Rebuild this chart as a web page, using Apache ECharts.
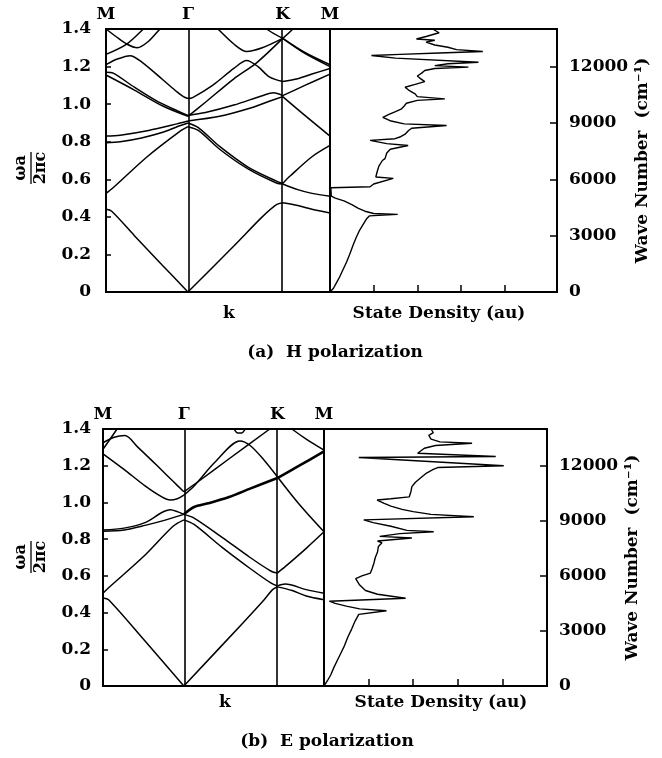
<!DOCTYPE html>
<html lang="en">

<head>
    <meta charset="UTF-8">
    <title>Photonic bands and state density</title>
    <style>
        html,
        body {
            margin: 0;
            padding: 0;
            background: #fff;
        }

        #chart {
            width: 662px;
            height: 758px;
        }
    </style>
</head>

<body>
    <div id="chart"></div>
    <script src="https://cdn.jsdelivr.net/npm/echarts@6/dist/echarts.min.js"></script>
    <script>
        // k path M - Γ - K - M (hexagonal lattice, reduced units)
        var kPoints = [0, 0.577, 1.244, 1.577];
        var kNames = ['M', 'Γ', 'K', 'M'];
        var waveTicks = [0, 3000, 6000, 9000, 12000];
        var dosTicks = [1, 2, 3, 4];

        // (a) H polarization, each band as [k, ωa/2πc]
        var bandsH = [
            [[0, 0.44], [0.04, 0.43], [0.2, 0.30], [0.4, 0.14], [0.577, 0], [0.9, 0.245], [1.1, 0.40], [1.2, 0.465], [1.244, 0.475], [1.35, 0.46], [1.45, 0.44], [1.577, 0.42]],
            [[0, 0.525], [0.05, 0.555], [0.29, 0.72], [0.52, 0.855], [0.577, 0.88], [0.65, 0.86], [0.8, 0.76], [1.0, 0.655], [1.2, 0.58], [1.244, 0.575], [1.35, 0.545], [1.45, 0.525], [1.577, 0.51]],
            [[0, 0.795], [0.1, 0.80], [0.25, 0.82], [0.4, 0.85], [0.5, 0.88], [0.577, 0.90], [0.65, 0.875], [0.8, 0.775], [1.0, 0.665], [1.2, 0.59], [1.244, 0.578], [1.3, 0.62], [1.45, 0.72], [1.577, 0.78]],
            [[0, 0.83], [0.1, 0.835], [0.3, 0.86], [0.5, 0.895], [0.577, 0.91], [0.8, 0.935], [1.0, 0.975], [1.15, 1.015], [1.244, 1.04], [1.4, 0.94], [1.577, 0.83]],
            [[0, 1.17], [0.05, 1.165], [0.2, 1.09], [0.35, 1.02], [0.5, 0.965], [0.577, 0.94], [0.7, 0.955], [0.9, 0.995], [1.1, 1.045], [1.18, 1.06], [1.244, 1.045], [1.4, 1.10], [1.577, 1.16]],
            [[0, 1.155], [0.2, 1.075], [0.4, 0.99], [0.577, 0.935], [0.7, 1.01], [0.9, 1.135], [1.06, 1.22], [1.244, 1.35], [1.4, 1.27], [1.577, 1.20]],
            [[0, 1.21], [0.08, 1.24], [0.17, 1.258], [0.25, 1.225], [0.4, 1.13], [0.5, 1.065], [0.545, 1.04], [0.577, 1.03], [0.61, 1.035], [0.75, 1.10], [0.9, 1.19], [0.99, 1.232], [1.07, 1.2], [1.15, 1.145], [1.244, 1.12], [1.35, 1.135], [1.45, 1.16], [1.577, 1.19]],
            [[0, 1.265], [0.146, 1.32], [0.263, 1.40], [0.3, 1.43]],
            [[0, 1.40], [0.07, 1.36], [0.146, 1.32], [0.22, 1.30], [0.3, 1.335], [0.38, 1.40], [0.42, 1.43]],
            [[0.75, 1.43], [0.788, 1.40], [0.9, 1.32], [0.99, 1.28], [1.1, 1.30], [1.244, 1.35], [1.315, 1.40], [1.34, 1.43]],
            [[1.1, 1.43], [1.13, 1.40], [1.244, 1.35], [1.4, 1.275], [1.577, 1.21]]
        ];

        // (a) state density, [density, ωa/2πc]
        var dosH = [
            [0, 0], [0.08, 0.02], [0.15, 0.05], [0.22, 0.08], [0.3, 0.12], [0.38, 0.16], [0.45, 0.2], [0.53, 0.25], [0.6, 0.29], [0.68, 0.33],
            [0.76, 0.36], [0.84, 0.39], [0.9, 0.405], [1.55, 0.413], [1.0, 0.418], [0.8, 0.43], [0.65, 0.445], [0.5, 0.465], [0.32, 0.485], [0.12, 0.5],
            [0.03, 0.51], [0.02, 0.555], [0.92, 0.56], [1.0, 0.575], [1.45, 0.605], [1.05, 0.612], [1.08, 0.64], [1.12, 0.67], [1.2, 0.7], [1.26, 0.71],
            [1.3, 0.74], [1.38, 0.76], [1.79, 0.78], [1.3, 0.79], [0.92, 0.807], [1.49, 0.816], [1.6, 0.825], [1.72, 0.84], [1.8, 0.86], [1.87, 0.872],
            [2.67, 0.886], [1.7, 0.895], [1.4, 0.91], [1.21, 0.93], [1.35, 0.945], [1.5, 0.96], [1.64, 0.975], [1.7, 0.99], [1.75, 1.005], [2.0, 1.02],
            [2.63, 1.028], [2.0, 1.04], [1.95, 1.055], [1.8, 1.075], [1.72, 1.09], [1.95, 1.105], [2.17, 1.12], [2.05, 1.14], [2.0, 1.15], [2.1, 1.165],
            [2.17, 1.179], [2.4, 1.19], [3.17, 1.197], [2.4, 1.205], [2.7, 1.215], [3.4, 1.223], [1.5, 1.245], [0.95, 1.259], [1.6, 1.265], [2.5, 1.272],
            [3.5, 1.28], [2.9, 1.29], [2.7, 1.303], [2.4, 1.315], [2.2, 1.33], [2.4, 1.34], [1.98, 1.347], [2.2, 1.36], [2.5, 1.38], [2.35, 1.4]
        ];

        // (b) E polarization
        var bandsE = [
            [[0, 0.48], [0.04, 0.47], [0.3, 0.245], [0.577, 0], [1.0, 0.345], [1.15, 0.47], [1.21, 0.525], [1.244, 0.54], [1.35, 0.52], [1.45, 0.49], [1.577, 0.47]],
            [[0, 0.505], [0.04, 0.535], [0.289, 0.705], [0.5, 0.87], [0.577, 0.905], [0.65, 0.88], [0.85, 0.755], [1.05, 0.64], [1.2, 0.56], [1.244, 0.545], [1.3, 0.555], [1.45, 0.525], [1.577, 0.505]],
            [[0, 0.85], [0.15, 0.86], [0.3, 0.89], [0.42, 0.945], [0.48, 0.96], [0.53, 0.95], [0.577, 0.935], [0.65, 0.915], [0.85, 0.81], [1.05, 0.70], [1.2, 0.625], [1.244, 0.615], [1.3, 0.65], [1.45, 0.75], [1.577, 0.84]],
            [[0, 0.843], [0.15, 0.85], [0.3, 0.875], [0.45, 0.905], [0.577, 0.935]],
            [[0.577, 0.935], [0.65, 0.975], [0.75, 0.995], [0.9, 1.03], [1.05, 1.075], [1.244, 1.133], [1.4, 1.2], [1.577, 1.278]],
            [[0, 1.325], [0.08, 1.355], [0.156, 1.364], [0.25, 1.30], [0.4, 1.19], [0.5, 1.115], [0.577, 1.058], [0.7, 1.125], [0.9, 1.238], [1.19, 1.40], [1.25, 1.435]],
            [[0, 1.265], [0.15, 1.18], [0.3, 1.09], [0.42, 1.03], [0.48, 1.013], [0.53, 1.02], [0.577, 1.04], [0.65, 1.09], [0.8, 1.22], [0.977, 1.335], [1.05, 1.31], [1.15, 1.23], [1.244, 1.14], [1.4, 0.99], [1.577, 0.84]],
            [[0, 1.29], [0.1, 1.40], [0.12, 1.43]],
            [[0.9, 1.43], [0.935, 1.40], [0.96, 1.378], [0.99, 1.378], [1.015, 1.40], [1.05, 1.43]],
            [[1.3, 1.43], [1.348, 1.40], [1.45, 1.345], [1.577, 1.285]]
        ];
        var thickE = [4];

        var dosE = [
            [0, 0], [0.08, 0.03], [0.15, 0.06], [0.22, 0.1], [0.3, 0.14], [0.38, 0.18], [0.46, 0.22], [0.54, 0.27], [0.62, 0.31], [0.7, 0.355],
            [0.78, 0.39], [1.4, 0.41], [0.8, 0.42], [0.5, 0.435], [0.25, 0.45], [0.12, 0.462], [1.83, 0.478], [1.2, 0.5], [0.93, 0.52], [0.8, 0.55],
            [0.71, 0.585], [0.85, 0.6], [1.04, 0.615], [1.08, 0.64], [1.12, 0.67], [1.15, 0.7], [1.2, 0.73], [1.22, 0.76], [1.3, 0.78], [1.2, 0.79],
            [1.97, 0.806], [1.25, 0.815], [1.7, 0.83], [2.46, 0.84], [1.86, 0.848], [1.5, 0.87], [1.1, 0.89], [0.89, 0.905], [3.36, 0.922], [2.4, 0.935],
            [2.0, 0.95], [1.75, 0.962], [1.5, 0.98], [1.35, 0.995], [1.19, 1.013], [1.5, 1.02], [1.91, 1.03], [1.95, 1.06], [1.97, 1.086], [2.05, 1.11],
            [2.15, 1.13], [2.3, 1.16], [2.45, 1.18], [2.55, 1.19], [4.03, 1.2], [0.78, 1.245], [3.85, 1.25], [2.1, 1.268], [2.12, 1.278], [2.25, 1.295],
            [2.5, 1.31], [3.32, 1.322], [2.6, 1.33], [2.4, 1.345], [2.35, 1.365], [2.45, 1.38], [2.4, 1.4]
        ];

        var captionsH = ['k', 'State Density (au)', '(a)  H polarization'];
        var captionsE = ['k', 'State Density (au)', '(b)  E polarization'];

        var FONT = "'DejaVu Serif', 'Liberation Serif', serif";
        var black = '#000';

        var panels = [
            {
                bands: bandsH, dos: dosH, thick: [], captions: captionsH,
                box: [106, 29, 224, 263], dosBox: [330, 29, 227, 263], dosMax: 5.2, yMargin: 15,
                fracY: 168, capY: [314, 314, 353], capX: [229, 439, 335]
            },
            {
                bands: bandsE, dos: dosE, thick: thickE, captions: captionsE,
                box: [103, 429, 221, 257], dosBox: [324, 429, 223, 257], dosMax: 5.0, yMargin: 12,
                fracY: 557, capY: [703, 703, 742], capX: [225, 441, 327]
            }
        ];

        function txt(size) {
            return { color: black, fontFamily: FONT, fontWeight: 'bold', fontSize: size || 17 };
        }

        // cut a band at Γ and K so the kinks there stay sharp when smoothed
        function splitAtSymmetry(band) {
            var pieces = [], cur = [];
            band.forEach(function (pt, i) {
                cur.push(pt);
                var isKink = (Math.abs(pt[0] - kPoints[1]) < 1e-6 || Math.abs(pt[0] - kPoints[2]) < 1e-6);
                if (isKink && i > 0 && i < band.length - 1) {
                    pieces.push(cur);
                    cur = [pt];
                }
            });
            if (cur.length > 1) pieces.push(cur);
            return pieces;
        }

        var grids = [], xAxes = [], yAxes = [], series = [], graphics = [];

        panels.forEach(function (p, pi) {
            var g0 = grids.length;
            grids.push({
                left: p.box[0], top: p.box[1], width: p.box[2], height: p.box[3],
                show: true, borderColor: black, borderWidth: 2, backgroundColor: 'transparent'
            });
            grids.push({
                left: p.dosBox[0], top: p.dosBox[1], width: p.dosBox[2], height: p.dosBox[3],
                show: true, borderColor: black, borderWidth: 2, backgroundColor: 'transparent'
            });

            var xBand = xAxes.length;
            xAxes.push({ gridIndex: g0, type: 'value', min: 0, max: kPoints[3], show: false });
            xAxes.push({
                gridIndex: g0, type: 'value', position: 'top', min: 0, max: kPoints[3],
                axisLine: { show: false }, axisTick: { show: false }, splitLine: { show: false },
                axisLabel: Object.assign(txt(17), {
                    customValues: kPoints, margin: 6,
                    formatter: function (v) {
                        for (var i = 0; i < kPoints.length; i++) {
                            if (Math.abs(kPoints[i] - v) < 1e-6) return kNames[i];
                        }
                        return '';
                    }
                })
            });
            var xDos = xAxes.length;
            xAxes.push({
                gridIndex: g0 + 1, type: 'value', min: 0, max: p.dosMax, interval: 1,
                axisLine: { show: false }, splitLine: { show: false },
                axisTick: { inside: true, length: 7, customValues: dosTicks, lineStyle: { color: black, width: 1.5 } },
                axisLabel: { show: false }
            });

            var yBand = yAxes.length;
            yAxes.push({
                gridIndex: g0, type: 'value', min: 0, max: 1.4, interval: 0.2,
                axisLine: { show: false }, splitLine: { show: false },
                axisTick: { inside: true, length: 5, lineStyle: { color: black, width: 1.5 } },
                axisLabel: Object.assign(txt(17), {
                    margin: p.yMargin,
                    formatter: function (v) { return v === 0 ? '0' : v.toFixed(1); }
                })
            });
            var yDos = yAxes.length;
            yAxes.push({ gridIndex: g0 + 1, type: 'value', min: 0, max: 1.4, show: false });
            yAxes.push({
                gridIndex: g0 + 1, type: 'value', position: 'right', min: 0, max: 14000, interval: 3000,
                axisLine: { show: false }, splitLine: { show: false },
                axisTick: { inside: true, length: 7, customValues: waveTicks, lineStyle: { color: black, width: 1.5 } },
                axisLabel: Object.assign(txt(17), {
                    margin: 12, customValues: waveTicks,
                    formatter: function (v) { return v % 3000 === 0 ? String(v) : ''; }
                }),
                name: 'Wave Number  (cm⁻¹)', nameLocation: 'middle', nameRotate: 90, nameGap: 77,
                nameTextStyle: txt(17)
            });

            // vertical Γ and K lines
            series.push({
                type: 'line', xAxisIndex: xBand, yAxisIndex: yBand, data: [], silent: true,
                markLine: {
                    symbol: ['none', 'none'], silent: true, label: { show: false },
                    lineStyle: { color: black, width: 1.6, type: 'solid' },
                    data: [{ xAxis: kPoints[1] }, { xAxis: kPoints[2] }]
                }
            });

            p.bands.forEach(function (b, bi) {
                var w = p.thick.indexOf(bi) >= 0 ? 2.6 : 1.5;
                splitAtSymmetry(b).forEach(function (piece) {
                    series.push({
                        type: 'line', xAxisIndex: xBand, yAxisIndex: yBand, data: piece,
                        symbol: 'none', smooth: 0.3, silent: true,
                        lineStyle: { color: black, width: w }
                    });
                });
            });

            series.push({
                type: 'line', xAxisIndex: xDos, yAxisIndex: yDos, data: p.dos,
                symbol: 'none', silent: true,
                lineStyle: { color: black, width: 1.4 }
            });

            // ωa / 2πc axis title, rotated
            graphics.push({
                type: 'group', x: 31, y: p.fracY, rotation: Math.PI / 2,
                children: [
                    { type: 'text', x: 0, y: -10, style: Object.assign(txt(16), { text: 'ωa', align: 'center', verticalAlign: 'middle', fill: black }) },
                    { type: 'line', shape: { x1: -16, y1: 0, x2: 16, y2: 0 }, style: { stroke: black, lineWidth: 1.3 } },
                    { type: 'text', x: 0, y: 10, style: Object.assign(txt(16), { text: '2πc', align: 'center', verticalAlign: 'middle', fill: black }) }
                ]
            });

            p.captions.forEach(function (c, ci) {
                graphics.push({
                    type: 'text', x: p.capX[ci], y: p.capY[ci],
                    style: Object.assign(txt(17), { text: c, align: 'center', verticalAlign: 'middle', fill: black })
                });
            });
        });

        var myChart = echarts.init(document.getElementById('chart'));
        myChart.setOption({
            animation: false,
            backgroundColor: '#fff',
            grid: grids,
            xAxis: xAxes,
            yAxis: yAxes,
            series: series,
            graphic: graphics
        });
    </script>
</body>

</html>
